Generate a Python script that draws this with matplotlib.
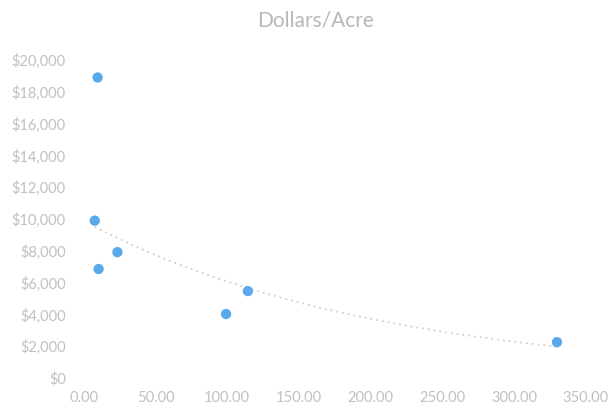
import matplotlib
matplotlib.use("Agg")
import matplotlib.pyplot as plt
import numpy as np
from matplotlib.ticker import FuncFormatter

plt.rcParams['font.family'] = ['Lato', 'DejaVu Sans']

x_vals = [9.6, 7.6, 23.4, 10.3, 114.4, 99.2, 330.0]
y_vals = [18900, 9900, 7920, 6860, 5470, 4030, 2260]
title = "Dollars/Acre"
x_ticks = [0, 50, 100, 150, 200, 250, 300, 350]
y_ticks = list(range(0, 20001, 2000))

fig = plt.figure(figsize=(6.12, 4.11), dpi=100)
ax = fig.add_axes([0.137, 0.080, 0.820, 0.774])

x = np.array(x_vals)
y = np.array(y_vals)
# exponential trendline
b, a = np.polyfit(x, np.log(y), 1)
xt = np.linspace(x.min(), x.max(), 200)
ax.plot(xt, np.exp(a + b * xt), linestyle=(0, (1, 2.5)), color='#c8c8c8', linewidth=1.2, zorder=1)

ax.scatter(x, y, s=55, color='#5aa9ea', edgecolors='none', zorder=2)

ax.set_xlim(0, 350)
ax.set_ylim(0, 20000)
ax.set_xticks(x_ticks)
ax.set_yticks(y_ticks)
ax.xaxis.set_major_formatter(FuncFormatter(lambda v, p: f"{v:.2f}"))
ax.yaxis.set_major_formatter(FuncFormatter(lambda v, p: f"${int(v):,}"))
for s in ax.spines.values():
    s.set_visible(False)
ax.tick_params(length=0, colors='#c0c0c0', labelsize=10.5)
ax.tick_params(axis='x', pad=9)
ax.tick_params(axis='y', pad=13)
fig.text(0.516, 0.951, title, color='#b8b8b8', fontsize=15,
         ha='center', va='center')

fig.savefig("out.png", dpi=100)
